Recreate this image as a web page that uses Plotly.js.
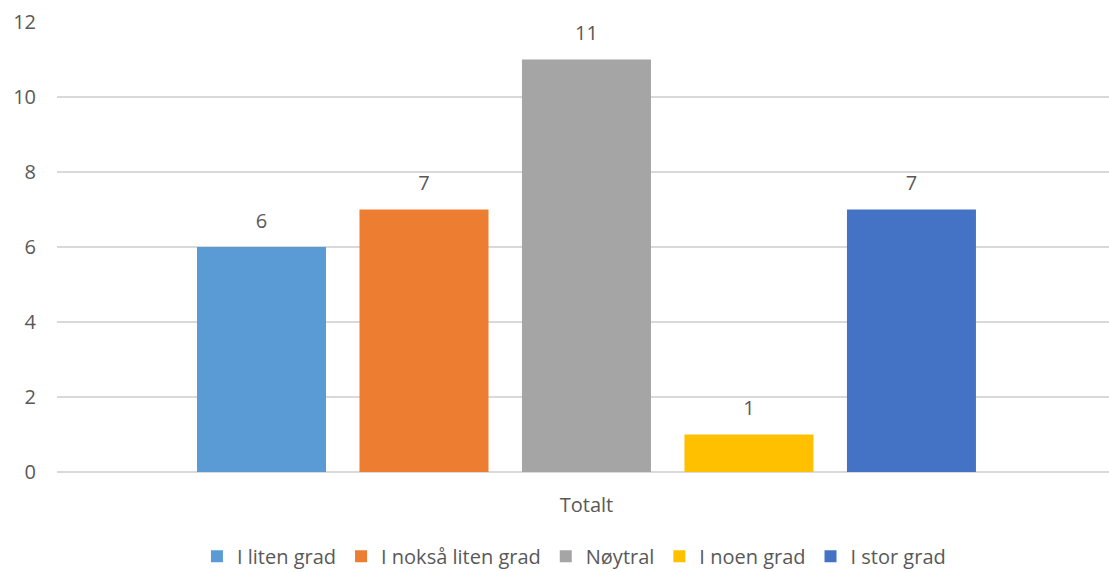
<!DOCTYPE html>
<html><head><meta charset="utf-8">
<script src="https://cdn.plot.ly/plotly-3.0.1.min.js"></script>
<style>html,body{margin:0;padding:0;background:#fff}#chart{width:1109px;height:572px}</style>
</head><body><div id="chart"></div>
<script>
const categories = ["Totalt"];
const seriesNames = ["I liten grad", "I nokså liten grad", "Nøytral", "I noen grad", "I stor grad"];
const seriesValues = [[6], [7], [11], [1], [7]];
const seriesColors = ["#5B9BD5", "#ED7D31", "#A5A5A5", "#FFC000", "#4472C4"];
const yTicks = [0, 2, 4, 6, 8, 10, 12];

const FONT = "Open Sans, Noto Sans, sans-serif";
const TXT = "#595959";
const FS = 20;

const barTraces = seriesNames.map((name, i) => ({
  type: "bar",
  name: name,
  x: categories,
  y: seriesValues[i],
  offsetgroup: "g" + i,
  alignmentgroup: "a",
  marker: {color: seriesColors[i]},
  hoverinfo: "none"
}));

const labelTraces = seriesNames.map((name, i) => ({
  type: "scatter",
  mode: "markers+text",
  name: name + " label",
  x: categories,
  y: seriesValues[i],
  offsetgroup: "g" + i,
  alignmentgroup: "a",
  text: seriesValues[i].map(String),
  textposition: "top center",
  textfont: {family: FONT, size: FS, color: TXT},
  marker: {size: 21, color: "rgba(0,0,0,0)"},
  cliponaxis: false,
  showlegend: false,
  hoverinfo: "none"
}));

const layout = {
  width: 1109, height: 572,
  margin: {l: 57, r: 0, t: 22, b: 100, autoexpand: false},
  paper_bgcolor: "#fff", plot_bgcolor: "#fff",
  barmode: "group",
  bargap: 0.2277,
  bargroupgap: 0.206,
  scattermode: "group",
  scattergap: 0.2277,
  font: {family: FONT, size: FS, color: TXT},
  xaxis: {
    type: "category",
    range: [-0.5 - 0.0033, 0.5 - 0.0033],
    showgrid: false, zeroline: false, showline: false,
    ticks: "", ticklabelstandoff: 19,
    tickfont: {family: FONT, size: FS, color: TXT}
  },
  yaxis: {
    range: [0, 12],
    tickvals: yTicks,
    showgrid: true, gridcolor: "#D9D9D9", gridwidth: 1.5,
    zeroline: true, zerolinecolor: "#D9D9D9", zerolinewidth: 1.5,
    showline: false, ticks: "",
    ticklabelstandoff: 20,
    tickfont: {family: FONT, size: FS, color: TXT}
  },
  showlegend: true,
  legend: {
    orientation: "h", x: 0.4914, xanchor: "center", y: -0.187, yanchor: "middle",
    font: {family: FONT, size: FS, color: TXT},
    itemwidth: 30, traceorder: "normal"
  }
};

Plotly.newPlot("chart", barTraces.concat(labelTraces), layout, {displayModeBar: false, staticPlot: true});
</script></body></html>
